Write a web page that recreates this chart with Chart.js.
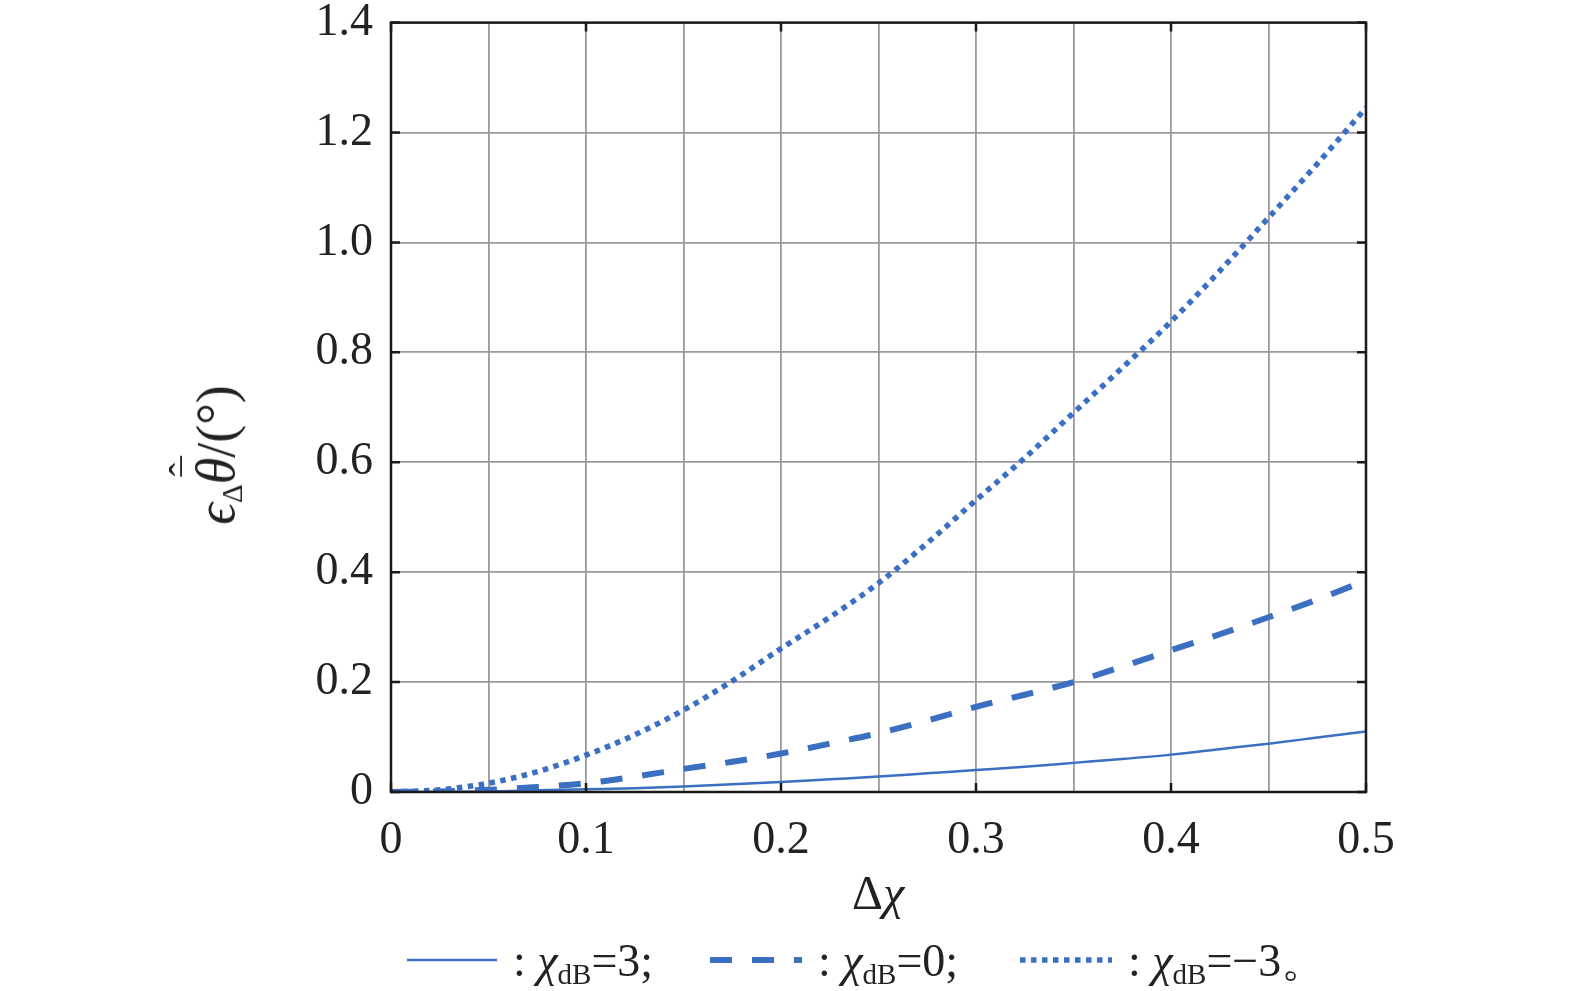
<!DOCTYPE html>
<html>
<head>
<meta charset="utf-8">
<script src="https://cdn.jsdelivr.net/npm/chart.js@4"></script>
<style>
  body { margin: 0; background: #fff; overflow: hidden; }
  #wrap { position: relative; width: 1575px; height: 991px; overflow: hidden; font-family: "Liberation Serif", "Times New Roman", serif; color: #222; }
  canvas { position: absolute; left: 0; top: -23px; }
  .lbl { position: absolute; white-space: nowrap; font-size: 46px; line-height: 1; }
  .lbl i { font-style: italic; }
  .lbl sub { font-size: 29px; vertical-align: -8px; }
  #xTitle { left: 878px; top: 893px; transform: translate(-50%, -50%); font-size: 48px; }
  #yTitle { left: 218px; top: 455px; transform: translate(-50%, -50%) rotate(-90deg); font-size: 54px; }
  .theta { position: relative; display: inline-block; font-style: italic; }
  .acc { position: absolute; left: 0.2em; font-style: normal; font-size: 40px; line-height: 1; }
  .acc.bar { top: -0.28em; }
  .acc.hat { top: -0.62em; }
  .key { position: absolute; top: 950px; }
</style>
</head>
<body>
<div id="wrap">
  <canvas id="chart" width="1575" height="1014"></canvas>
  <div class="lbl" id="xTitle">Δ<i>χ</i></div>
  <div class="lbl" id="yTitle"><i>ϵ</i><sub>Δ</sub><span class="theta">θ<span class="acc bar">¯</span><span class="acc hat">ˆ</span></span>/(°)</div>

  <svg class="key" style="left:407px" width="90" height="20"><line x1="0" y1="10" x2="90" y2="10" stroke="#3a6fc1" stroke-width="2.5"/></svg>
  <div class="lbl" style="left:513px; top:938px">: <i>χ</i><sub>dB</sub>=3;</div>
  <svg class="key" style="left:710px" width="92" height="20"><line x1="0" y1="10" x2="92" y2="10" stroke="#3a6fc1" stroke-width="6" stroke-dasharray="22 20"/></svg>
  <div class="lbl" style="left:818px; top:938px">: <i>χ</i><sub>dB</sub>=0;</div>
  <svg class="key" style="left:1020px" width="92" height="20"><line x1="0" y1="10" x2="92" y2="10" stroke="#3a6fc1" stroke-width="5.5" stroke-dasharray="5.5 5.5"/></svg>
  <div class="lbl" style="left:1128px; top:938px">: <i>χ</i><sub>dB</sub>=−3。</div>
</div>

<script>
// ─── Data ───────────────────────────────────────────────────────────────────
const deltaChi = [0, 0.025, 0.05, 0.075, 0.1, 0.125, 0.15, 0.175, 0.2, 0.225, 0.25,
                  0.275, 0.3, 0.325, 0.35, 0.375, 0.4, 0.425, 0.45, 0.475, 0.5];

const errChiPos3 = [0, 0.0003, 0.001, 0.003, 0.005, 0.007, 0.01, 0.014, 0.018, 0.023, 0.028,
                    0.034, 0.04, 0.046, 0.053, 0.06, 0.068, 0.078, 0.088, 0.099, 0.11];

const errChi0 = [0, 0.001, 0.004, 0.009, 0.016, 0.028, 0.042, 0.055, 0.07, 0.088, 0.107,
                 0.13, 0.155, 0.177, 0.2, 0.228, 0.258, 0.287, 0.318, 0.35, 0.385];

const errChiNeg3 = [0, 0.004, 0.016, 0.037, 0.067, 0.104, 0.149, 0.202, 0.261, 0.318, 0.38,
                    0.453, 0.531, 0.608, 0.69, 0.772, 0.856, 0.948, 1.045, 1.143, 1.245];

const xTickLabels = ["0", "0.1", "0.2", "0.3", "0.4", "0.5"];
const yTickLabels = ["0", "0.2", "0.4", "0.6", "0.8", "1.0", "1.2", "1.4"];

// ─── Style ──────────────────────────────────────────────────────────────────
const LINE_BLUE = "#3a6fc1";
const FONT = { family: "Liberation Serif", size: 46 };

function toPoints(ys) {
    return deltaChi.map((x, i) => ({ x: x, y: ys[i] }));
}

// inward tick marks on all four sides + frame
const innerTicks = {
    id: "innerTicks",
    afterDraw(chart) {
        const { ctx, chartArea: a, scales } = chart;
        const len = 9;
        ctx.save();
        ctx.strokeStyle = "#1a1a1a";
        ctx.lineWidth = 2.5;
        ctx.beginPath();
        xTickLabels.forEach(t => {
            const px = scales.x.getPixelForValue(parseFloat(t));
            ctx.moveTo(px, a.bottom); ctx.lineTo(px, a.bottom - len);
            ctx.moveTo(px, a.top);    ctx.lineTo(px, a.top + len);
        });
        yTickLabels.forEach(t => {
            const py = scales.y.getPixelForValue(parseFloat(t));
            ctx.moveTo(a.left, py);  ctx.lineTo(a.left + len, py);
            ctx.moveTo(a.right, py); ctx.lineTo(a.right - len, py);
        });
        ctx.stroke();
        ctx.strokeRect(a.left, a.top, a.right - a.left, a.bottom - a.top);
        ctx.restore();
    },
};

new Chart(document.getElementById("chart"), {
    type: "line",
    data: {
        datasets: [
            {
                label: "χdB=3",
                data: toPoints(errChiPos3),
                borderColor: LINE_BLUE,
                borderWidth: 2.5,
            },
            {
                label: "χdB=0",
                data: toPoints(errChi0),
                borderColor: LINE_BLUE,
                borderWidth: 6,
                borderDash: [22, 20],
            },
            {
                label: "χdB=-3",
                data: toPoints(errChiNeg3),
                borderColor: LINE_BLUE,
                borderWidth: 5.5,
                borderDash: [5.5, 5.5],
            },
        ],
    },
    options: {
        responsive: false,
        animation: false,
        layout: { padding: { top: 0, right: 209, left: 0, bottom: 0 } },
        elements: {
            point: { radius: 0 },
            line: { cubicInterpolationMode: "monotone", borderCapStyle: "butt", fill: false },
        },
        plugins: { legend: { display: false }, tooltip: { enabled: false } },
        scales: {
            x: {
                type: "linear",
                min: 0, max: 0.5,
                afterFit: s => { s.height = 199; },
                afterBuildTicks: s => { s.ticks = deltaChi.filter((v, i) => i % 2 === 0).map(v => ({ value: v })); },
                ticks: {
                    color: "#222",
                    font: FONT,
                    padding: 21,
                    maxRotation: 0,
                    autoSkip: false,
                    callback: v => {
                        const s = v === 0 ? "0" : String(Math.round(v * 10) / 10);
                        return xTickLabels.includes(s) && Math.abs(v * 10 - Math.round(v * 10)) < 1e-6 ? s : "";
                    },
                },
                grid: { color: "#9a9a9a", lineWidth: 1.8, drawTicks: false },
                border: { display: false },
            },
            y: {
                min: 0, max: 1.4,
                afterFit: s => { s.width = 391; },
                afterBuildTicks: s => { s.ticks = yTickLabels.map(t => ({ value: parseFloat(t) })); },
                ticks: {
                    color: "#222",
                    font: FONT,
                    padding: 18,
                    callback: v => yTickLabels.find(t => Math.abs(parseFloat(t) - v) < 1e-6),
                },
                grid: { color: "#9a9a9a", lineWidth: 1.8, drawTicks: false },
                border: { display: false },
            },
        },
    },
    plugins: [innerTicks],
});
</script>
</body>
</html>
